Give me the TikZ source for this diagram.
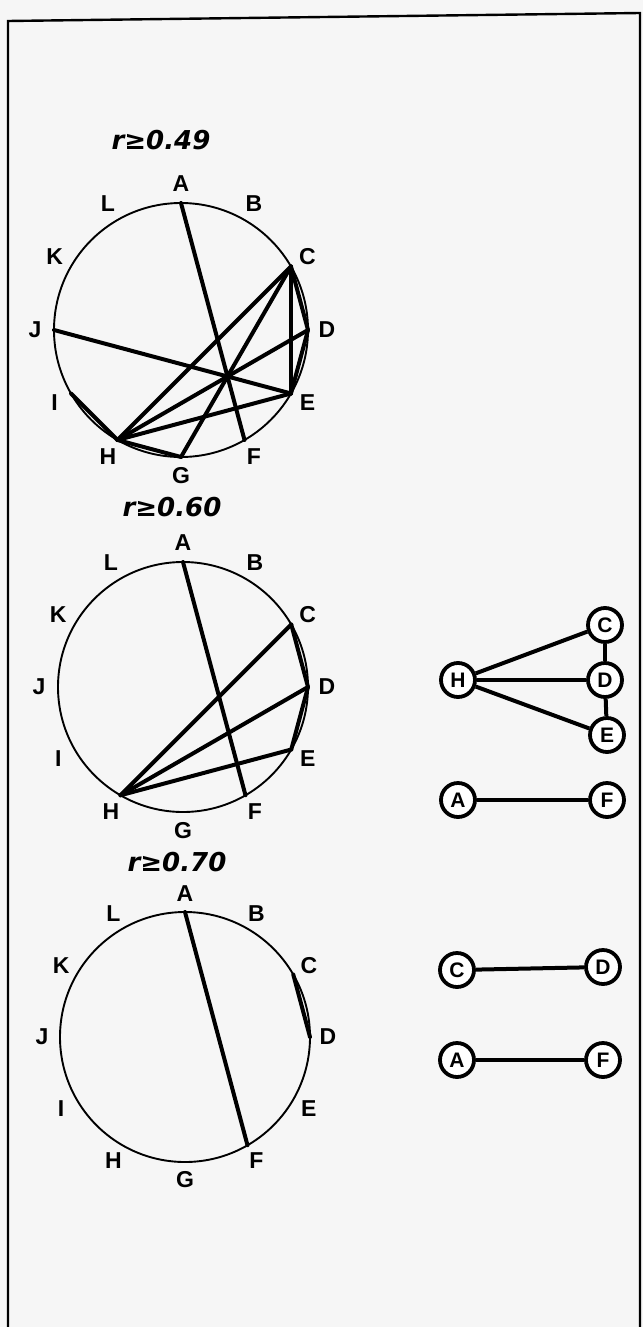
\documentclass[tikz,border=0pt]{standalone}
\usepackage{fontspec}
\setmainfont{Liberation Sans}
\newfontfamily\labfont{Liberation Sans}
\newfontfamily\rfont{DejaVu Sans}
\usetikzlibrary{calc}
\tikzset{
  rim/.style={line width=1.9pt},
  chord/.style={line width=4pt, line cap=round},
  lab/.style={font=\labfont\bfseries\fontsize{23}{23}\selectfont, inner sep=0pt},
  rlab/.style={font=\rfont\bfseries\itshape\fontsize{26}{26}\selectfont, inner sep=0pt},
  gnode/.style={circle, draw, line width=3.8pt, minimum size=34pt, inner sep=0pt, fill=white,
     font=\labfont\bfseries\fontsize{21}{21}\selectfont},
  gedge/.style={line width=4pt},
  frame/.style={line width=2.4pt}
}
\begin{document}
\begin{tikzpicture}[x=1pt,y=-1pt]
\useasboundingbox (0,0) rectangle (643,1327);
\fill[gray!7] (0,0) rectangle (643,1327);
% frame
\coordinate (fbl) at (8,1327);
\coordinate (ftl) at (8,21);
\coordinate (ftr) at (640,13);
\coordinate (fbr) at (640,1327);
\draw[frame] (fbl) -- (ftl) -- (ftr) -- (fbr);

% ---------- circle 1 ----------
\coordinate (c1) at (181,330);
\draw[rim] (c1) circle[radius=127];
\foreach \n/\a in {A/90,B/60,C/30,D/0,E/-30,F/-60,G/-90,H/-120,I/-150,J/180,K/150,L/120}{
  \coordinate (p1\n) at ([shift={(-\a:127)}]c1);
  \node[lab] (l1\n) at ([shift={(-\a:146)}]c1) {\n};
}
\node[rlab] (r1) at (161,140) {r≥0.49};
\foreach \u/\v in {A/F,J/E,C/D,C/E,D/E,C/H,C/G,D/H,E/H,G/H,H/I}{
  \draw[chord] (p1\u) -- (p1\v);
}

% ---------- circle 2 ----------
\coordinate (c2) at (183,687);
\draw[rim] (c2) circle[radius=125];
\foreach \n/\a in {A/90,B/60,C/30,D/0,E/-30,F/-60,G/-90,H/-120,I/-150,J/180,K/150,L/120}{
  \coordinate (p2\n) at ([shift={(-\a:125)}]c2);
  \node[lab] (l2\n) at ([shift={(-\a:144)}]c2) {\n};
}
\node[rlab] (r2) at (172,507) {r≥0.60};
\foreach \u/\v in {A/F,C/H,D/H,E/H,C/D,D/E}{
  \draw[chord] (p2\u) -- (p2\v);
}

% ---------- circle 3 ----------
\coordinate (c3) at (185,1037);
\draw[rim] (c3) circle[radius=125];
\foreach \n/\a in {A/90,B/60,C/30,D/0,E/-30,F/-60,G/-90,H/-120,I/-150,J/180,K/150,L/120}{
  \coordinate (p3\n) at ([shift={(-\a:125)}]c3);
  \node[lab] (l3\n) at ([shift={(-\a:143)}]c3) {\n};
}
\node[rlab] (r3) at (177,862) {r≥0.70};
\foreach \u/\v in {A/F,C/D}{
  \draw[chord] (p3\u) -- (p3\v);
}

% ---------- graphs on the right ----------
\node[gnode] (gC) at (605,625) {C};
\node[gnode] (gD) at (605,680) {D};
\node[gnode] (gE) at (607,735) {E};
\node[gnode] (gH) at (458,680) {H};
\node[gnode] (gA) at (458,800) {A};
\node[gnode] (gF) at (607,800) {F};
\draw[gedge] (gH) -- (gC);
\draw[gedge] (gH) -- (gD);
\draw[gedge] (gH) -- (gE);
\draw[gedge] (gC) -- (gD);
\draw[gedge] (gD) -- (gE);
\draw[gedge] (gA) -- (gF);

\node[gnode] (hC) at (457,970) {C};
\node[gnode] (hD) at (603,967) {D};
\draw[gedge] (hC) -- (hD);

\node[gnode] (kA) at (457,1060) {A};
\node[gnode] (kF) at (603,1060) {F};
\draw[gedge] (kA) -- (kF);
\end{tikzpicture}
\end{document}
